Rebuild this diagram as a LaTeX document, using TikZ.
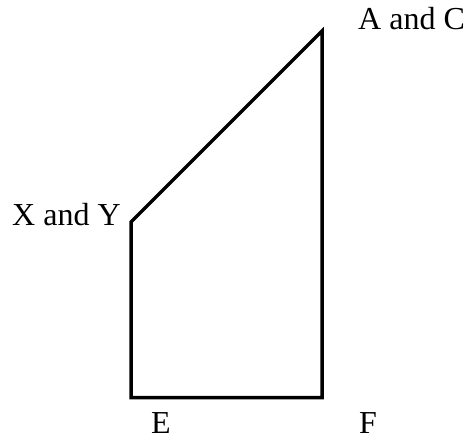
\documentclass[tikz,border=0pt]{standalone}
\usepackage{fontspec}
\setmainfont{Liberation Serif}
\begin{document}
\begin{tikzpicture}[x=1pt,y=-1pt,
  lbl/.style={anchor=base west,inner sep=0pt,font=\fontsize{32}{36}\selectfont},
  edge/.style={line width=3.5pt,line join=miter}]
\useasboundingbox (0,0) rectangle (470,441);
\coordinate (ac) at (322,31);
\coordinate (xy) at (131,222);
\coordinate (e) at (131,397.5);
\coordinate (f) at (322,397.5);
\draw[edge] (ac) -- (xy) -- (e) -- (f) -- cycle;
\node[lbl] (lac) at (358,30) {A and C};
\node[lbl] (lxy) at (12,225) {X and Y};
\node[lbl] (le) at (151,433) {E};
\node[lbl] (lf) at (359,433) {F};
\end{tikzpicture}
\end{document}
